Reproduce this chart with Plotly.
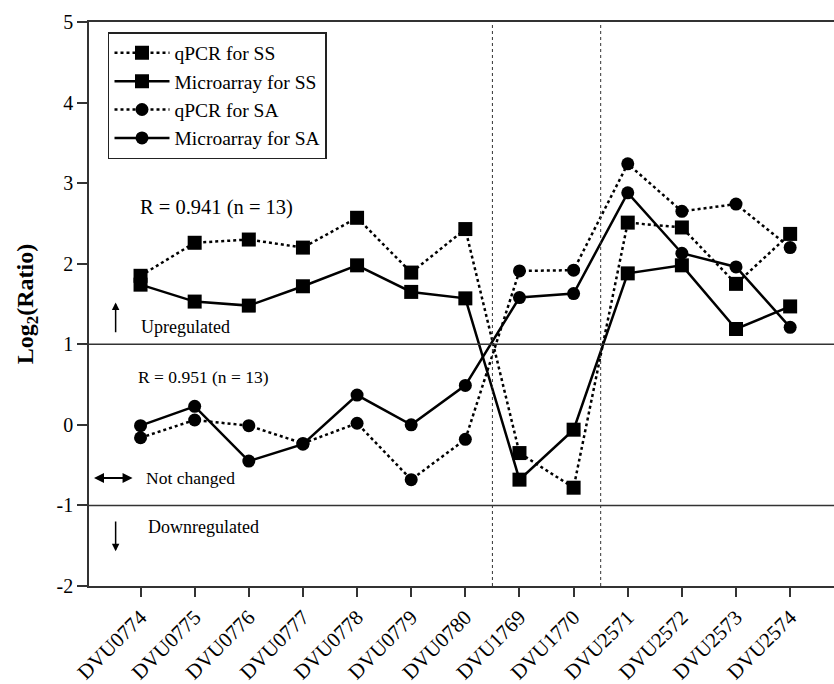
import plotly.graph_objects as go

genes = ["DVU0774", "DVU0775", "DVU0776", "DVU0777", "DVU0778", "DVU0779", "DVU0780",
         "DVU1769", "DVU1770", "DVU2571", "DVU2572", "DVU2573", "DVU2574"]
qpcr_ss = [1.85, 2.26, 2.30, 2.20, 2.57, 1.89, 2.43, -0.35, -0.78, 2.51, 2.45, 1.75, 2.37]
micro_ss = [1.74, 1.53, 1.48, 1.72, 1.98, 1.65, 1.57, -0.68, -0.06, 1.88, 1.98, 1.19, 1.47]
qpcr_sa = [-0.16, 0.06, -0.01, -0.23, 0.02, -0.68, -0.18, 1.91, 1.92, 3.24, 2.65, 2.74, 2.20]
micro_sa = [-0.01, 0.23, -0.45, -0.24, 0.37, 0.00, 0.49, 1.58, 1.63, 2.88, 2.13, 1.96, 1.21]
y_ticks = [-2, -1, 0, 1, 2, 3, 4, 5]
y_ticktext = ["-2", "-1", "0", "1", "2", "3", "4", "5"]

xi = list(range(len(genes)))
FONT = "Liberation Serif, Times New Roman, serif"

fig = go.Figure()
series = [
    ("qPCR for SS", qpcr_ss, "dot", "square", 14),
    ("Microarray for SS", micro_ss, "solid", "square", 14),
    ("qPCR for SA", qpcr_sa, "dot", "circle", 13),
    ("Microarray for SA", micro_sa, "solid", "circle", 13),
]
for name, vals, dash, sym, sz in series:
    fig.add_trace(go.Scatter(
        x=xi, y=vals, name=name, mode="lines+markers",
        line=dict(color="black", width=2.5, dash=dash),
        marker=dict(symbol=sym, size=sz, color="black"),
    ))

# reference lines
for yv in [1, -1]:
    fig.add_shape(type="line", xref="paper", yref="y", x0=0, x1=1, y0=yv, y1=yv,
                  line=dict(color="#333", width=1.5))
for xv in [6.5, 8.5]:
    fig.add_shape(type="line", xref="x", yref="paper", x0=xv, x1=xv, y0=0, y1=1,
                  line=dict(color="#333", width=1, dash="dot"))

# arrows
fig.add_annotation(x=-0.46, y=1.52, ax=-0.46, ay=1.13, xref="x", yref="y", axref="x", ayref="y",
                   text="", showarrow=True, arrowhead=2, arrowsize=1, arrowwidth=1.5, arrowcolor="black")
fig.add_annotation(x=-0.46, y=-1.57, ax=-0.46, ay=-1.18, xref="x", yref="y", axref="x", ayref="y",
                   text="", showarrow=True, arrowhead=2, arrowsize=1, arrowwidth=1.5, arrowcolor="black")
fig.add_annotation(x=-0.86, y=-0.66, ax=-0.12, ay=-0.66, xref="x", yref="y", axref="x", ayref="y",
                   text="", showarrow=True, arrowhead=2, startarrowhead=2, arrowside="end+start",
                   arrowsize=1, arrowwidth=2, arrowcolor="black")

texts = [
    ("R = 0.941 (n = 13)", -0.04, 2.70, 20.5),
    ("Upregulated", -0.02, 1.22, 18),
    ("R = 0.951 (n = 13)", -0.09, 0.60, 17.5),
    ("Not changed", 0.07, -0.66, 17.5),
    ("Downregulated", 0.11, -1.27, 18),
]
for t, xv, yv, fs in texts:
    fig.add_annotation(x=xv, y=yv, xref="x", yref="y", text=t, showarrow=False,
                       xanchor="left", yanchor="middle", font=dict(family=FONT, size=fs, color="black"))

# y-axis title
fig.add_annotation(x=-0.083, y=0.5, xref="paper", yref="paper", text="<b>Log<sub>2</sub>(Ratio)</b>",
                   textangle=-90, showarrow=False, xanchor="center", yanchor="middle",
                   font=dict(family=FONT, size=24, color="black"))

fig.update_layout(
    width=834, height=684,
    margin=dict(l=89, r=0, t=22, b=98),
    plot_bgcolor="white", paper_bgcolor="white",
    font=dict(family=FONT, size=20, color="black"),
    showlegend=True,
    legend=dict(x=0.0255, y=0.982, xanchor="left", yanchor="top",
                bordercolor="#222", borderwidth=1.5, bgcolor="white",
                font=dict(family=FONT, size=19.5), tracegroupgap=0, itemwidth=55),
    xaxis=dict(range=[-0.952, 12.81], tickmode="array", tickvals=xi, ticktext=genes,
               tickangle=-45, ticks="outside", ticklen=9, tickwidth=1.5, tickcolor="#333",
               showline=True, linecolor="#333", linewidth=1.5, mirror=True, showgrid=False,
               zeroline=False, tickfont=dict(family=FONT, size=21), automargin=False),
    yaxis=dict(range=[-2, 5], tickmode="array", tickvals=y_ticks, ticktext=y_ticktext,
               ticks="outside", ticklen=10, tickwidth=1.5, tickcolor="#333",
               showline=True, linecolor="#333", linewidth=1.5, showgrid=False, zeroline=False,
               tickfont=dict(family=FONT, size=20), automargin=False),
)

fig.write_html("out.html", config={"displayModeBar": False},
               post_script="document.body.style.margin='0';document.body.style.overflow='hidden';")
